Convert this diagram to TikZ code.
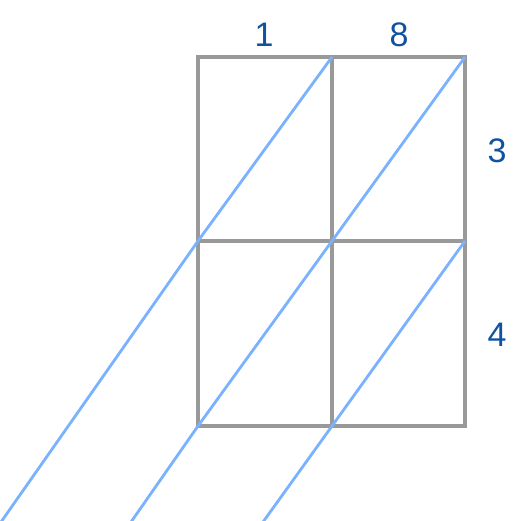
\documentclass[tikz,border=0pt]{standalone}
\usepackage{fontspec}
\setmainfont{Liberation Sans}
\definecolor{gridgray}{RGB}{153,153,153}
\definecolor{diagblue}{RGB}{122,178,255}
\definecolor{labelblue}{RGB}{16,82,160}
\begin{document}
\begin{tikzpicture}[x=1pt,y=-1pt,
  gridline/.style={draw=gridgray,line width=3.2pt},
  diagline/.style={draw=diagblue,line width=2.8pt},
  digit/.style={text=labelblue,font=\fontsize{34}{34}\selectfont,inner sep=0pt,anchor=center}]
\useasboundingbox (0,0) rectangle (521,520);
% grid corners
\coordinate (a1) at (198,57);
\coordinate (a2) at (332,57);
\coordinate (a3) at (465,57);
\coordinate (b1) at (198,241);
\coordinate (b2) at (332,241);
\coordinate (b3) at (465,241);
\coordinate (c1) at (198,426);
\coordinate (c2) at (332,426);
\coordinate (c3) at (465,426);
% diagonal ends at bottom edge
\coordinate (e1) at (1,522);
\coordinate (e2) at (131,522);
\coordinate (e3) at (263,522);
\begin{scope}
\clip (0,0) rectangle (521,520);
\draw[gridline] (a1) rectangle (c3);
\draw[gridline] (a2) -- (c2);
\draw[gridline] (b1) -- (b3);
\draw[diagline] (a2) -- (b1) -- (e1);
\draw[diagline] (a3) -- (b2) -- (c1) -- (e2);
\draw[diagline] (b3) -- (c2) -- (e3);
\end{scope}
\node[digit] (n1) at (264,35) {1};
\node[digit] (n8) at (399,35) {8};
\node[digit] (n3) at (497,151) {3};
\node[digit] (n4) at (497,335) {4};
\end{tikzpicture}
\end{document}
